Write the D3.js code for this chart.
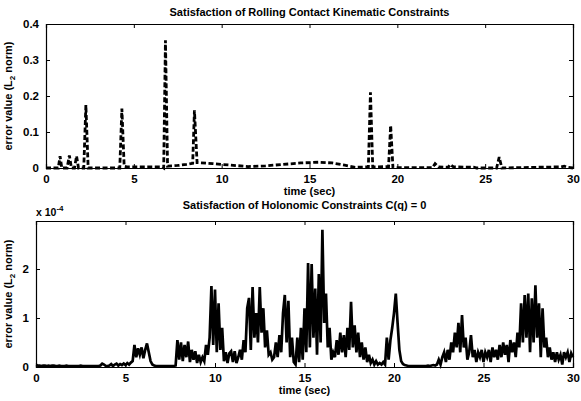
<!DOCTYPE html>
<html>
<head>
<meta charset="utf-8">
<script src="https://cdn.jsdelivr.net/npm/d3@7"></script>
<style>
  body { margin: 0; background: #fff; }
  svg text { font-family: "Liberation Sans", Arial, sans-serif; font-weight: bold; fill: #000; }
</style>
</head>
<body>
<svg width="581" height="401"></svg>
<script>
// rolling contact constraint error (time, value)
var rollT = [0, 0.7, 0.8, 0.9, 1.2, 1.33, 1.45, 1.62, 1.74, 1.85, 2.15, 2.27, 2.4,
  4.2, 4.32, 4.45, 4.6, 6.6, 6.7, 6.8, 6.92, 7.5, 8.0, 8.35, 8.45, 8.6, 9.5, 10.5,
  11.5, 12.5, 13.5, 14.5, 15.5, 16.3, 17.0, 17.6, 18.35, 18.47, 18.6, 19.5, 19.62,
  19.75, 22.0, 22.15, 22.35, 22.9, 23.0, 23.2, 24.4, 24.5, 25.65, 25.8, 25.95,
  27.9, 29.3, 29.5, 29.7, 30];
var rollV = [0, 0, 0.033, 0, 0, 0.035, 0, 0, 0.033, 0, 0, 0.175, 0,
  0, 0.165, 0.005, 0.003, 0.003, 0, 0.355, 0.005, 0.007, 0.01, 0.013, 0.16, 0.015, 0.012, 0.008,
  0.004, 0.006, 0.01, 0.014, 0.016, 0.014, 0.008, 0.002, 0.003, 0.21, 0.003, 0.004, 0.118,
  0.001, 0.001, 0.012, 0.003, 0.002, 0.01, 0.003, 0.002, 0,  0, 0.03, 0,
  0.002, 0.003, 0.005, 0.002, 0];

// holonomic constraint error, sampled every 0.1 s, in units of 1e-4
var holoStep = 0.1;
var holoV = [
  0.04,0.03,0.03,0.02,0.03,0.03,0.02,0.03,0.02,0.03,
  0.03,0.02,0.02,0.03,0.02,0.02,0.02,0.03,0.02,0.02,
  0.02,0.02,0.02,0.02,0.02,0.03,0.02,0.02,0.02,0.02,
  0.02,0.02,0.02,0.02,0.02,0.02,0.03,0.07,0.05,0.02,
  0.02,0.03,0.06,0.02,0.05,0.07,0.03,0.06,0.04,0.07,
  0.04,0.08,0.05,0.09,0.12,0.45,0.2,0.38,0.25,0.4,
  0.18,0.35,0.48,0.3,0.12,0.05,0.03,0.02,0.02,0.02,
  0.02,0.02,0.02,0.02,0.02,0.02,0.02,0.02,0.03,0.55,
  0.15,0.5,0.12,0.45,0.2,0.52,0.1,0.35,0.15,0.32,
  0.08,0.25,0.1,0.2,0.12,0.45,0.25,0.6,1.65,0.45,
  1.58,0.3,1.3,0.35,0.8,0.12,0.3,0.08,0.28,0.32,
  0.1,0.32,0.08,0.2,0.35,0.15,0.55,0.3,1.2,1.41,
  0.35,1.63,0.6,1.1,0.5,1.63,0.7,1.2,0.4,0.75,
  0.25,0.3,0.15,0.2,0.5,0.2,0.65,0.3,1.1,1.47,
  0.5,1.35,0.2,0.6,0.1,0.05,0.6,0.1,0.8,0.15,
  1.2,0.3,2.12,0.4,2.1,0.6,1.6,0.25,1.9,0.5,
  2.8,0.9,1.5,0.4,0.8,0.15,0.3,0.2,0.55,0.25,
  0.7,0.3,0.65,0.2,0.8,0.35,1.33,0.4,0.85,0.3,
  0.7,0.2,0.5,0.15,0.4,0.1,0.25,0.08,0.15,0.05,
  0.12,0.05,0.08,0.05,0.1,0.05,0.6,0.15,0.55,0.8,
  1.1,1.5,0.9,0.35,0.12,0.06,0.04,0.03,0.02,0.02,
  0.02,0.02,0.02,0.02,0.02,0.02,0.02,0.02,0.02,0.03,
  0.02,0.03,0.04,0.03,0.05,0.15,0.05,0.2,0.3,0.1,
  0.35,0.15,0.5,0.3,0.7,0.4,0.9,0.3,1.06,0.4,
  0.6,0.15,0.3,0.65,0.2,0.35,0.1,0.3,0.2,0.35,
  0.1,0.3,0.2,0.35,0.1,0.4,0.2,0.35,0.15,0.45,
  0.2,0.5,0.25,0.45,0.1,0.55,0.3,0.5,0.2,0.7,
  0.4,1.3,0.5,1.47,0.6,1.5,0.3,1.4,0.5,1.67,
  0.6,1.3,0.2,1.2,0.4,0.6,0.2,0.4,0.15,0.3,
  0.1,0.3,0.15,0.25,0.05,0.3,0.2,0.3,0.1,0.28,
  0.2];

var xTicks = [0, 5, 10, 15, 20, 25, 30];
var rollTicks = [0, 0.1, 0.2, 0.3, 0.4];
var holoTicks = [0, 1, 2];

var svg = d3.select("svg");

function panel(cfg) {
  var x = d3.scaleLinear().domain([0, 30]).range([cfg.left, 573]);
  var y = d3.scaleLinear().domain(cfg.yDomain).range([cfg.bottom, cfg.top]);
  var g = svg.append("g");

  // data first, box on top like matlab
  g.append("path")
    .datum(cfg.data)
    .attr("fill", "none")
    .attr("stroke", "#000")
    .attr("stroke-width", cfg.lw)
    .attr("stroke-linejoin", "miter")
    .attr("stroke-dasharray", cfg.dash)
    .attr("d", d3.line().x(function(d) { return x(d[0]); }).y(function(d) { return y(d[1]); }));

  var tl = 4;
  // bottom / top axes, ticks pointing in
  g.append("g").attr("transform", "translate(0," + cfg.bottom + ")")
    .call(d3.axisBottom(x).tickValues(xTicks).tickSize(-tl).tickPadding(tl + 3).tickFormat(d3.format("d")));
  g.append("g").attr("transform", "translate(0," + cfg.top + ")")
    .call(d3.axisTop(x).tickValues(xTicks).tickSize(-tl).tickFormat(""));
  g.append("g").attr("transform", "translate(" + cfg.left + ",0)")
    .call(d3.axisLeft(y).tickValues(cfg.yTicks).tickSize(-tl).tickPadding(tl + 3).tickFormat(cfg.yFmt));
  g.append("g").attr("transform", "translate(573,0)")
    .call(d3.axisRight(y).tickValues(cfg.yTicks).tickSize(-tl).tickFormat(""));

  g.selectAll(".domain").attr("stroke", "#000").attr("stroke-width", 1.2);
  g.selectAll(".tick line").attr("stroke", "#000");
  g.selectAll(".tick text").style("font-size", "11.5px").style("font-family", "Liberation Sans, Arial, sans-serif").style("font-weight", "bold");

  g.append("text")
    .attr("x", (cfg.left + 573) / 2).attr("y", cfg.titleY)
    .attr("text-anchor", "middle").style("font-size", "11px")
    .text(cfg.title);
  g.append("text")
    .attr("x", (cfg.left + 573) / 2).attr("y", cfg.bottom + 27)
    .attr("text-anchor", "middle").style("font-size", "11px")
    .text("time (sec)");

  var yl = g.append("text")
    .attr("transform", "translate(" + cfg.ylx + "," + ((cfg.top + cfg.bottom) / 2) + ") rotate(-90)")
    .attr("text-anchor", "middle").style("font-size", "11px");
  yl.append("tspan").text("error value (L");
  yl.append("tspan").attr("dy", 3).style("font-size", "8px").text("2");
  yl.append("tspan").attr("dy", -3).text(" norm)");
  return g;
}

panel({
  left: 46, top: 24, bottom: 168,
  yDomain: [0, 0.4], yTicks: rollTicks, yFmt: function(d) { return d === 0 ? "0" : d3.format(".1f")(d); },
  data: rollT.map(function(t, i) { return [t, rollV[i]]; }),
  lw: 2.8, dash: "5,2.5",
  title: "Satisfaction of Rolling Contact Kinematic Constraints",
  titleY: 16, ylx: 12
});

var hp = panel({
  left: 36, top: 221, bottom: 367,
  yDomain: [0, 2.98], yTicks: holoTicks, yFmt: d3.format("d"),
  data: holoV.map(function(v, i) { return [i * holoStep, v]; }),
  lw: 2.7, dash: null,
  title: "Satisfaction of Holonomic Constraints C(q) = 0",
  titleY: 209, ylx: 12
});

var ex = hp.append("text").attr("x", 36).attr("y", 216).style("font-size", "10.5px");
ex.append("tspan").text("x 10");
ex.append("tspan").attr("dy", -5).style("font-size", "8px").text("-4");
</script>
</body>
</html>
